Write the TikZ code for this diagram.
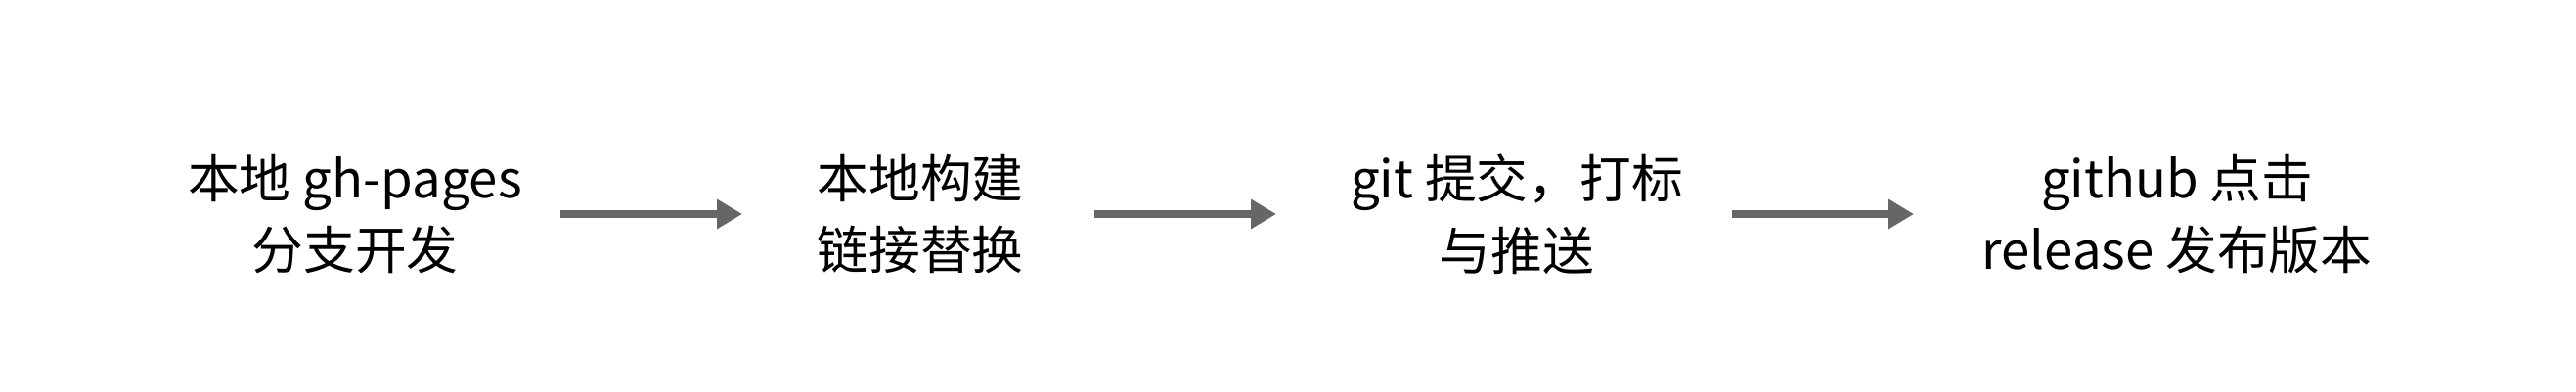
\documentclass[tikz,border=0pt]{standalone}
\usepackage{fontspec}
\setmainfont{Noto Sans CJK SC}
\usetikzlibrary{arrows.meta}
\definecolor{arrgray}{HTML}{666666}
\tikzset{
    ST/.style ={align=center,inner sep=0pt,font=\fontsize{15pt}{21pt}\selectfont},
    AR/.style ={draw=arrgray,line width=2.1pt,-{Triangle[length=0.26cm,width=0.29cm]}}}
\begin{document}
\begin{tikzpicture}
        \useasboundingbox (0,0) rectangle (26.34,4);
        \node[ST] (1) at(3.63,1.81){本地 gh-pages\\分支开发};
        \node[ST] (2) at(9.41,1.81){本地构建\\链接替换};
        \node[ST] (3) at(15.51,1.81){git 提交，打标\\与推送};
        \node[ST] (4) at(22.26,1.81){github 点击\\release 发布版本};
        \draw[AR] ([xshift=2.10cm]1.center) --([xshift=-1.82cm]2.center);
        \draw[AR] ([xshift=1.78cm]2.center) --([xshift=-2.46cm]3.center);
        \draw[AR] ([xshift=2.20cm]3.center) --([xshift=-2.69cm]4.center);
    \end{tikzpicture}
\end{document}
